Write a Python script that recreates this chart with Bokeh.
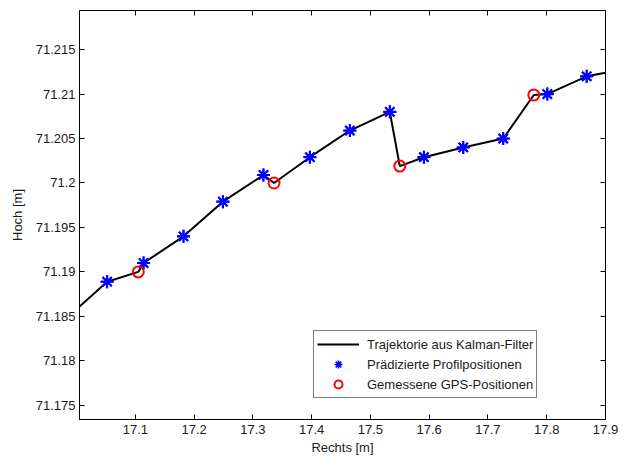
from bokeh.plotting import figure
from bokeh.models import Range1d, LinearAxis, FixedTicker, CustomJSTickFormatter, Legend, LegendItem
from bokeh.embed import file_html
from bokeh.resources import INLINE

# Trajectory from Kalman filter (passes through predictions and GPS updates)
traj_x = [17.005, 17.052, 17.105, 17.114, 17.182, 17.249, 17.318, 17.336, 17.397, 17.465,
          17.533, 17.550, 17.591, 17.658, 17.726, 17.778, 17.801, 17.868, 17.900]
traj_y = [71.1861, 71.1889, 71.1900, 71.1910, 71.1940, 71.1979, 71.2009, 71.2000, 71.2029, 71.2059,
          71.2080, 71.2019, 71.2029, 71.2040, 71.2050, 71.2099, 71.2100, 71.2120, 71.2124]

# Predicted profile positions
pred_x = [17.052, 17.114, 17.182, 17.249, 17.318, 17.397, 17.465, 17.533, 17.591, 17.658,
          17.726, 17.801, 17.868]
pred_y = [71.1889, 71.1910, 71.1940, 71.1979, 71.2009, 71.2029, 71.2059, 71.2080, 71.2029, 71.2040,
          71.2050, 71.2100, 71.2120]

# Measured GPS positions
gps_x = [17.105, 17.336, 17.550, 17.778]
gps_y = [71.1900, 71.2000, 71.2019, 71.2099]

x_ticks = [17.1, 17.2, 17.3, 17.4, 17.5, 17.6, 17.7, 17.8, 17.9]
y_ticks = [71.175, 71.18, 71.185, 71.19, 71.195, 71.2, 71.205, 71.21, 71.215]

FONT = "Liberation Sans"

p = figure(width=630, height=457, output_backend="svg", toolbar_location=None,
           x_range=Range1d(17.005, 17.9), y_range=Range1d(71.1734, 71.2194),
           min_border_left=79, min_border_right=25, min_border_top=10, min_border_bottom=36)
p.grid.visible = False
p.outline_line_color = "black"
p.outline_line_width = 1
p.background_fill_color = "white"
p.border_fill_color = "white"

fmt = CustomJSTickFormatter(code="""
var s = tick.toFixed(3);
s = s.replace(/0+$/, '').replace(/\\.$/, '');
return s;
""")

for ax in p.xaxis:
    ax.ticker = FixedTicker(ticks=x_ticks)
for ax in p.yaxis:
    ax.ticker = FixedTicker(ticks=y_ticks)
    ax.formatter = fmt

for ax in list(p.xaxis) + list(p.yaxis):
    ax.major_tick_in = 5
    ax.major_tick_out = 0
    ax.minor_tick_line_color = None
    ax.axis_line_color = "black"
    ax.major_tick_line_color = "black"
    ax.major_label_text_font = FONT
    ax.major_label_text_font_size = "13px"
    ax.major_label_text_color = "#1a1a1a"
    ax.axis_label_text_font = FONT
    ax.axis_label_text_font_size = "13px"
    ax.axis_label_text_font_style = "normal"
    ax.axis_label_text_color = "#1a1a1a"

p.xaxis.axis_label = "Rechts [m]"
p.yaxis.axis_label = "Hoch [m]"
p.xaxis.major_label_standoff = 5
p.xaxis.axis_label_standoff = 3
p.yaxis.major_label_standoff = 4
p.yaxis.axis_label_standoff = 8

top = LinearAxis(ticker=FixedTicker(ticks=x_ticks), major_tick_in=5, major_tick_out=0,
                 major_label_text_font_size="1px", major_label_text_color=None,
                 major_label_standoff=0, minor_tick_line_color=None, axis_line_color=None)
right = LinearAxis(ticker=FixedTicker(ticks=y_ticks), major_tick_in=5, major_tick_out=0,
                   major_label_text_font_size="1px", major_label_text_color=None,
                   major_label_standoff=0, minor_tick_line_color=None, axis_line_color=None)
p.add_layout(top, "above")
p.add_layout(right, "right")

r_line = p.line(traj_x, traj_y, line_color="black", line_width=2)
# thin-stroked copy (hidden beneath the main stars) used for the legend swatch
r_pred_leg = p.scatter(pred_x, pred_y, marker="asterisk", size=13, line_color="#0000FF", line_width=1.6)
r_pred = p.scatter(pred_x, pred_y, marker="asterisk", size=13, line_color="#0000FF", line_width=2.2)
r_gps = p.scatter(gps_x, gps_y, marker="circle", size=11, fill_color=None, line_color="#FF0000", line_width=2)

legend = Legend(items=[
    LegendItem(label="Trajektorie aus Kalman-Filter", renderers=[r_line]),
    LegendItem(label="Prädizierte Profilpositionen", renderers=[r_pred_leg]),
    LegendItem(label="Gemessene GPS-Positionen", renderers=[r_gps]),
], location=(234, 21))
legend.label_text_font = FONT
legend.label_text_font_size = "13px"
legend.label_text_color = "#1a1a1a"
legend.label_height = 20
legend.glyph_height = 20
legend.glyph_width = 42
legend.label_standoff = 8
legend.spacing = 0
legend.padding = 3
legend.margin = 0
legend.border_line_color = "black"
legend.border_line_width = 1
legend.background_fill_color = "white"
legend.background_fill_alpha = 1.0
p.add_layout(legend, "center")

open("out.html", "w").write(file_html(p, INLINE))
